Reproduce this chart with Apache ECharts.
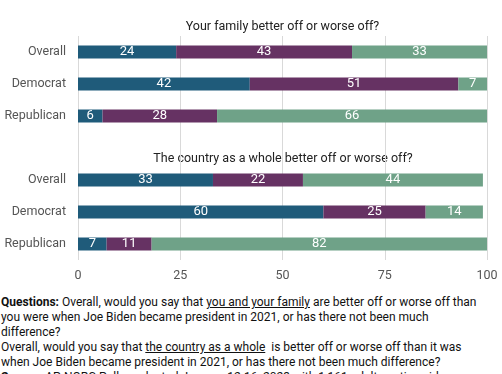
<!DOCTYPE html>
<html>
<head>
<meta charset="utf-8">
<script src="https://cdn.jsdelivr.net/npm/echarts@6/dist/echarts.min.js"></script>
<style>
  html, body { margin: 0; padding: 0; background: #fff; width: 502px; height: 374px; overflow: hidden; }
  #chart { width: 502px; height: 295px; }
  #foot { position: absolute; left: 1px; top: 295px; width: 478px; font-family: Roboto, sans-serif; font-size: 12px; line-height: 15px; color: #111; }
</style>
</head>
<body>
<div id="chart"></div>
<div id="foot">
<b>Questions:</b> Overall, would you say that <u>you and your family</u> are better off or worse off than you were when Joe Biden became president in 2021, or has there not been much difference?<br>
Overall, would you say that <u>the country as a whole</u>&nbsp; is better off or worse off than it was when Joe Biden became president in 2021, or has there not been much difference?<br>
<b>Source:</b> AP-NORC Poll conducted January 12-16, 2023 with 1,161 adults nationwide.
</div>
<script>
const groups = ['Overall', 'Democrat', 'Republican'];
const panelTitles = ['Your family better off or worse off?', 'The country as a whole better off or worse off?'];
const familyBetter = [24, 42, 6];
const familyNoDiff = [43, 51, 28];
const familyWorse = [33, 7, 66];
const countryBetter = [33, 60, 7];
const countryNoDiff = [22, 25, 11];
const countryWorse = [44, 14, 82];
const xTicks = [0, 25, 50, 75, 100];

const cats = groups.map(g => 'a|' + g).concat(['gap|']).concat(groups.map(g => 'b|' + g));
const join = (a, b) => a.concat(['-']).concat(b);
const colors = ['#1f5b7a', '#663263', '#6fa288'];
const seriesData = [join(familyBetter, countryBetter), join(familyNoDiff, countryNoDiff), join(familyWorse, countryWorse)];
const names = ['Better off', 'No difference', 'Worse off'];

const chart = echarts.init(document.getElementById('chart'));
chart.setOption({
  animation: false,
  textStyle: { fontFamily: 'Roboto' },
  grid: { left: 78, right: 15, top: 36, bottom: 35 },
  xAxis: {
    type: 'value', min: xTicks[0], max: xTicks[xTicks.length - 1], interval: 25,
    axisLine: { show: false }, axisTick: { show: false },
    splitLine: { lineStyle: { color: '#d9d9d9' } },
    axisLabel: { color: '#555', fontSize: 12.5, margin: 9 }
  },
  yAxis: {
    type: 'category', inverse: true, data: cats,
    axisLine: { show: false }, axisTick: { show: false },
    axisLabel: { color: '#555', fontSize: 12.5, margin: 12, formatter: v => v.split('|')[1] }
  },
  graphic: [
    { type: 'text', x: 282.5, y: 27, style: { text: panelTitles[0], fill: '#222', fontSize: 12.5, fontFamily: 'Roboto', textAlign: 'center', textVerticalAlign: 'middle' } },
    { type: 'text', x: 283, y: 159, style: { text: panelTitles[1], fill: '#222', fontSize: 12.5, fontFamily: 'Roboto', textAlign: 'center', textVerticalAlign: 'middle' } }
  ],
  series: seriesData.map((d, i) => ({
    name: names[i], type: 'bar', stack: 'all', data: d, barWidth: 13,
    itemStyle: { color: colors[i] },
    label: { show: true, position: 'inside', color: '#fff', fontSize: 13 }
  }))
});
</script>
</body>
</html>
